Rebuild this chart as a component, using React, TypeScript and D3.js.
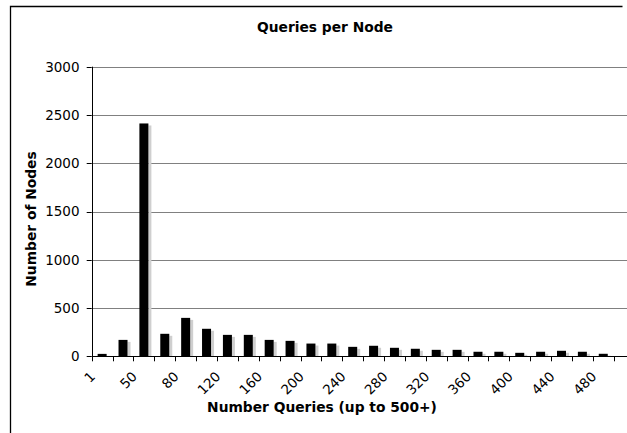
import React from 'react';
import * as d3 from 'd3';

// bins along the x axis (Excel shows every other label)
const categories = [
  '1', '25', '50', '60', '80', '100', '120', '140', '160', '180', '200', '220', '240',
  '260', '280', '300', '320', '340', '360', '380', '400', '420', '440', '460', '480',
];
const nodeCounts = [
  25, 170, 2412, 233, 398, 285, 222, 222, 170, 160, 132, 132, 98,
  109, 88, 78, 67, 67, 47, 47, 36, 47, 57, 47, 26,
];
const yTicks = [0, 500, 1000, 1500, 2000, 2500, 3000];

const W = 627;
const H = 433;
const font = '"DejaVu Sans", Verdana, sans-serif';

export default function App() {
  const margin = { top: 66.7, left: 91.7, bottom: 356.3 };
  const band = 20.88;

  const x = d3.scaleBand<string>()
    .domain(categories)
    .range([margin.left, margin.left + band * categories.length])
    .paddingInner(0)
    .paddingOuter(0);
  const y = d3.scaleLinear().domain([0, 3000]).range([margin.bottom, margin.top]);

  const bw = 9;
  const snap = (v: number) => Math.round(v) + 0.5;

  return (
    <svg width={W} height={H} style={{ position: 'absolute', left: 0, top: 0, background: '#fff' }}
      fontFamily={font}>
      {/* chart frame */}
      <path d={`M10.5,${H + 2} V6.5 H622.5`} fill="none" stroke="#000" strokeWidth={1.3} />

      <text x={325} y={32} textAnchor="middle" fontSize={13.8} fontWeight="bold">Queries per Node</text>

      {/* gridlines */}
      {yTicks.filter(t => t > 0).map(t => (
        <line key={'g' + t} x1={margin.left} x2={W + 10} y1={snap(y(t))} y2={snap(y(t))}
          stroke="#808080" strokeWidth={1} />
      ))}

      {/* bars with a light shadow */}
      {categories.map((c, i) => {
        const cx = (x(c) as number) + x.bandwidth() / 2;
        const top = y(nodeCounts[i]);
        return (
          <g key={c}>
            <rect x={cx + bw / 2} y={top + 2} width={3} height={margin.bottom - top - 2} fill="#cfcfcf" />
            <rect x={cx - bw / 2} y={top} width={bw} height={margin.bottom - top} fill="#000" />
          </g>
        );
      })}

      {/* y axis */}
      <line x1={snap(margin.left)} x2={snap(margin.left)} y1={margin.top} y2={margin.bottom} stroke="#000" />
      {yTicks.map(t => (
        <g key={'y' + t}>
          <line x1={margin.left - 5} x2={margin.left} y1={snap(y(t))} y2={snap(y(t))} stroke="#000" />
          <text x={79.5} y={y(t)} dy="0.36em" textAnchor="end" fontSize={13.5}>{t}</text>
        </g>
      ))}

      {/* x axis */}
      <line x1={margin.left} x2={W + 10} y1={snap(margin.bottom)} y2={snap(margin.bottom)} stroke="#000" />
      {categories.map((c) => (
        <line key={'t' + c} x1={snap(x(c) as number)} x2={snap(x(c) as number)}
          y1={margin.bottom} y2={margin.bottom + 5} stroke="#000" />
      )).concat(
        <line key="tend" x1={snap(x.range()[1])} x2={snap(x.range()[1])}
          y1={margin.bottom} y2={margin.bottom + 5} stroke="#000" />
      )}
      {categories.map((c, i) => i % 2 === 0 ? (
        <text key={'l' + c} textAnchor="end" fontSize={13.5}
          transform={`translate(${(x(c) as number) + x.bandwidth() / 2 - 6},${margin.bottom + 21}) rotate(-45)`}>
          {c}
        </text>
      ) : null)}

      <text x={322} y={412} textAnchor="middle" fontSize={13.8} fontWeight="bold">Number Queries (up to 500+)</text>
      <text transform={`translate(36,${219}) rotate(-90)`} textAnchor="middle" fontSize={13.8} fontWeight="bold">
        Number of Nodes
      </text>
    </svg>
  );
}
